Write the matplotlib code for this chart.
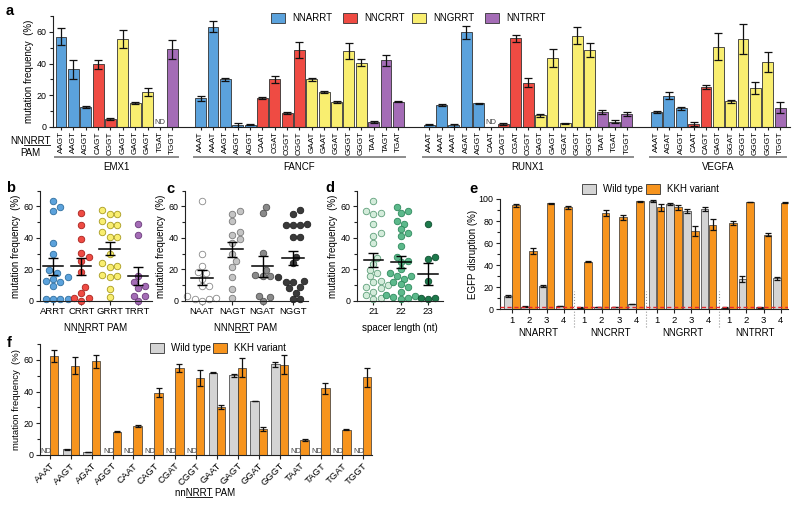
import numpy as np
import matplotlib.pyplot as plt
from matplotlib.lines import Line2D
from matplotlib.patches import Rectangle
import matplotlib.transforms as mtrans

plt.rcParams['font.family'] = ['Liberation Sans', 'DejaVu Sans']
plt.rcParams['font.size'] = 7

W, H = 800, 505

# ---------------- panel a: mutation frequency per site ----------------
genes = ['EMX1', 'FANCF', 'RUNX1', 'VEGFA']
nan = np.nan
emx1_pam = ['AAGT', 'AAGT', 'AGGT', 'CAGT', 'CGGT', 'GAGT', 'GAGT', 'GAGT', 'TGAT', 'TGGT']
emx1_val = [57, 36.5, 12.5, 39.5, 5.2, 55.5, 15, 21.8, nan, 49]
emx1_err = [5.2, 6, 0.5, 3, 0.6, 5.5, 0.6, 2.5, nan, 6]
fancf_pam = ['AAAT', 'AAAT', 'AAGT', 'AGGT', 'AGGT', 'CAAT', 'CGAT', 'CGGT', 'CGGT', 'GAAT',
             'GAAT', 'GGAT', 'GGGT', 'GGGT', 'TAAT', 'TAGT', 'TGAT']
fancf_val = [18, 63.2, 30, 1.5, 1.5, 18.2, 30.2, 8.8, 48.5, 30, 22, 16, 48, 40.5, 3.2, 42, 16]
fancf_err = [1.3, 3.5, 1.2, 1.3, 0.3, 0.8, 2.2, 0.7, 5, 1.2, 0.6, 0.6, 5, 2.3, 0.4, 3.3, 0.3]
runx1_pam = ['AAAT', 'AAAT', 'AAAT', 'AGAT', 'AGGT', 'CAAT', 'CAGT', 'CGAT', 'CGGT', 'GAGT',
             'GAGT', 'GGAT', 'GGGT', 'GGGT', 'TAAT', 'TGAT', 'TGGT']
runx1_val = [1.3, 14, 1, 59.8, 15, nan, 2, 56, 28, 7.4, 43.6, 2.3, 57.7, 48.4, 9.3, 3.4, 8.2]
runx1_err = [0.3, 0.5, 0.8, 4, 0.4, nan, 0.7, 2.3, 3, 1, 5.5, 0.4, 5.5, 4.5, 1.2, 0.7, 1]
vegfa_pam = ['AAAT', 'AGAT', 'AGGT', 'CAAT', 'CAGT', 'GAGT', 'GGAT', 'GGGT', 'GGGT', 'GGGT', 'TGGT']
vegfa_val = [9.5, 19.8, 11.8, 1.7, 25.2, 50.7, 16.2, 55.4, 24.4, 40.8, 12.2]
vegfa_err = [0.5, 2.3, 0.8, 1.2, 1, 8.5, 1, 9.5, 3.8, 6.3, 3.5]

pam_classes = ['NNARRT', 'NNCRRT', 'NNGRRT', 'NNTRRT']
b_groups = ['ARRT', 'CRRT', 'GRRT', 'TRRT']
c_groups = ['NAAT', 'NAGT', 'NGAT', 'NGGT']

# ---------------- panel d: spacer length ----------------
d_groups = ['21', '22', '23']
d_21 = [63.6, 57.2, 56, 55, 48.7, 43.4, 41.2, 36.5, 27.3, 23.5, 19.9, 17.7, 15.6, 12.4,
        9.2, 8.1, 6, 2.1, 1.5, 4, 10, 12]
d_22 = [59.8, 57, 56, 50.8, 49, 45.5, 43.4, 41.2, 34.8, 18, 28, 25.2, 24.5, 12, 20, 16,
        15.6, 14, 10.7, 9.2, 6, 3.2, 2.8, 1.7, 1.5, 4]
d_23 = [48.7, 28, 26.7, 12.8, 1.7, 1, 2]

# ---------------- panel e: EGFP disruption ----------------
e_groups = ['NNARRT', 'NNCRRT', 'NNGRRT', 'NNTRRT']
e_sites = ['1', '2', '3', '4']
e_wt = [12.1, 2.4, 21.2, 3, 1.5, 2, 2, 4.8, 98.2, 95.5, 89.4, 90.9, 1.5, 27.3, 1.8, 28.2]
e_wt_err = [0.6, 0.3, 1.2, 0.3, 0.3, 0.3, 0.3, 0.3, 0.5, 1.2, 1.8, 1.8, 0.3, 2.5, 0.3, 1.5]
e_kkh = [94.2, 53, 96, 92.4, 43.3, 87.3, 83.3, 97.9, 92.4, 92.4, 71.2, 76.7, 78.2, 97.3, 67.6, 96.7]
e_kkh_err = [1.5, 3, 0.6, 1.2, 0.3, 2.3, 2.5, 0.3, 3.5, 2, 4.5, 5, 1.5, 0.3, 1.2, 0.3]
e_threshold = 2.5

# ---------------- panel f: WT vs KKH per PAM ----------------
f_pam = ['AAAT', 'AAGT', 'AGAT', 'AGGT', 'CAAT', 'CAGT', 'CGAT', 'CGGT',
         'GAAT', 'GAGT', 'GGAT', 'GGGT', 'TAAT', 'TAGT', 'TGAT', 'TGGT']
f_wt = [nan, 3.5, 1.9, nan, nan, nan, nan, nan, 52, 50.2, 34, 57.1, nan, nan, nan, nan]
f_wt_err = [nan, 0.3, 0.2, nan, nan, nan, nan, nan, 0.4, 1, 0.2, 1.5, nan, nan, nan, nan]
f_kkh = [62.5, 56.3, 59, 14.8, 18.3, 39.4, 55, 48.3, 30.2, 55, 16.5, 56.9, 9.4, 42, 16, 49]
f_kkh_err = [4, 5.5, 4, 0.5, 0.8, 3, 2.5, 5, 1.2, 6, 1.2, 6, 0.8, 3.3, 0.3, 6]

# ---------------- styling ----------------
cls_col = {'A': '#5ba2dc', 'C': '#ef4b43', 'G': '#f9ee70', 'T': '#a46cb6'}
cls_edge = {'A': '#2f6f9f', 'C': '#a8231e', 'G': '#a89a20', 'T': '#6a3a7a'}
c_col = ['#ffffff', '#c4c4c4', '#8a8a8a', '#3a3a3a']
c_edge = ['#8a8a8a', '#7a7a7a', '#555555', '#222222']
d_col = ['#d4ecdb', '#5cb98b', '#1d7a4c']
d_edge = ['#5f9f7a', '#2f8a5d', '#0f4f30']
wt_col = '#d4d4d4'
kkh_col = '#f7941d'
edge = '#333333'
TL = 6.4

fig = plt.figure(figsize=(W / 100, H / 100), dpi=100)


def px_axes(l, t, r, b):
    return fig.add_axes([l / W, 1 - b / H, (r - l) / W, (b - t) / H])


def style(ax):
    for s in ['top', 'right']:
        ax.spines[s].set_visible(False)
    for s in ['left', 'bottom']:
        ax.spines[s].set_linewidth(0.8)
        ax.spines[s].set_color('#222222')
    ax.tick_params(which='both', width=0.8, length=3, labelsize=TL, pad=1.5, color='#222222')
    ax.tick_params(which='minor', length=2)


def ftext(x, y, s, **kw):
    return fig.text(x / W, 1 - y / H, s, **kw)


underlines = []


def utext(x, y, s, i0, i1, size=7):
    t = ftext(x, y, s, ha='center', va='center', fontsize=size)
    underlines.append((t, s, i0, i1, size))


def legend_item(x, y, col, label):
    fig.add_artist(Rectangle((x / W, 1 - (y + 5) / H), 14 / W, 10 / H, facecolor=col,
                             edgecolor=edge, linewidth=0.6, transform=fig.transFigure))
    ftext(x + 21, y, label, ha='left', va='center', fontsize=7)


def swarm(vals, xpx, ypx, d=6.6):
    vals = np.asarray(vals, float)
    offs = np.zeros(len(vals))
    placed = []
    for i in np.argsort(vals):
        y = vals[i] * ypx
        k = 0
        while True:
            found = None
            for c in ([0] if k == 0 else [k, -k]):
                x = c * d * 0.55
                if all((x - px) ** 2 + (y - py) ** 2 >= (0.95 * d) ** 2 for px, py in placed):
                    found = x
                    break
            if found is not None:
                break
            k += 1
        placed.append((found, y))
        offs[i] = found / xpx
    return offs


# ================= panel a =================
ax = px_axes(53, 16, 790, 127)
style(ax)
gene_pams = [emx1_pam, fancf_pam, runx1_pam, vegfa_pam]
gene_vals = [emx1_val, fancf_val, runx1_val, vegfa_val]
gene_errs = [emx1_err, fancf_err, runx1_err, vegfa_err]
starts = [0, 11.3, 29.8, 48.2]
all_x, all_lab = [], []
trans = mtrans.blended_transform_factory(ax.transData, ax.transAxes)
for g, s0, pams, vals, errs in zip(genes, starts, gene_pams, gene_vals, gene_errs):
    xs = s0 + np.arange(len(pams))
    for x, p, v, e in zip(xs, pams, vals, errs):
        if np.isnan(v):
            ax.text(x, 0.5, 'ND', ha='center', va='bottom', fontsize=5.5, color='#444444')
            continue
        ax.bar(x, v, width=0.88, color=cls_col[p[0]], edgecolor=edge, linewidth=0.6, zorder=2)
        ax.errorbar(x, v, yerr=e, fmt='none', ecolor='#111111', elinewidth=0.9,
                    capsize=2.8, capthick=0.9, zorder=3)
    all_x += list(xs)
    all_lab += pams
    ax.plot([s0 - 0.5, s0 + len(pams) - 0.5], [-0.27, -0.27], transform=trans,
            color='#8c8c8c', lw=1.4, clip_on=False)
    ax.text(s0 + (len(pams) - 1) / 2, -0.36, g, transform=trans, ha='center',
            va='center', fontsize=7)
ax.set_xticks(all_x)
ax.set_xticklabels(all_lab, rotation=90, fontsize=5.9)
ax.tick_params(axis='x', length=2, pad=1)
ax.set_xlim(-0.65, 59.0)
ax.set_ylim(0, 70)
ax.set_yticks([0, 20, 40, 60])
ax.set_yticks([10, 30, 50, 70], minor=True)
ax.set_ylabel('mutation frequency  (%)', fontsize=7, labelpad=2)
ftext(30, 141.5, 'NNNRRT', ha='center', va='center', fontsize=7)
underlines.append((fig.texts[-1], 'NNNRRT', 2, 6, 7))
ftext(30, 152.5, 'PAM', ha='center', va='center', fontsize=7)
for x, col, lab in zip([271, 343, 412, 485], ['A', 'C', 'G', 'T'], pam_classes):
    legend_item(x, 18, cls_col[col], lab)

# pooled data for b and c (ND -> 0)
pool_pam = sum(gene_pams, [])
pool_val = [0 if np.isnan(v) else v for v in sum(gene_vals, [])]


def scatter_panel(ax, groups, cols, edges, xpx, ypx):
    for i, (vals, c, ec) in enumerate(zip(groups, cols, edges)):
        vals = np.asarray(vals, float)
        offs = swarm(vals, xpx, ypx)
        ax.scatter(i + offs, vals, s=22, color=c, edgecolor=ec, linewidth=0.6, zorder=2,
                   clip_on=False)
        m = vals.mean()
        sem = vals.std(ddof=1) / np.sqrt(len(vals))
        ax.plot([i - 0.36, i + 0.36], [m, m], color='k', lw=1.1, zorder=4)
        ax.errorbar(i, m, yerr=sem, fmt='none', ecolor='k', elinewidth=1.0, capsize=3.5,
                    capthick=1.0, zorder=4)
    ax.set_ylim(0, 70)
    ax.set_yticks([0, 20, 40, 60])
    ax.set_yticks([10, 30, 50, 70], minor=True)
    ax.set_ylabel('mutation frequency  (%)', fontsize=7, labelpad=2)


# ================= panel b =================
ax = px_axes(40, 190.7, 152, 301)
style(ax)
b_vals = [[v for p, v in zip(pool_pam, pool_val) if p[0] == k[0]] for k in b_groups]
scatter_panel(ax, b_vals, [cls_col[k[0]] for k in b_groups], [cls_edge[k[0]] for k in b_groups],
              28.3, 1.56)
ax.set_xticks(range(4))
ax.set_xticklabels(b_groups, fontsize=6.8)
ax.set_xlim(-0.46, 3.5)
utext(96, 328, 'NNNRRT PAM', 2, 3)

# ================= panel c =================
ax = px_axes(185, 190.7, 308, 301)
style(ax)
c_vals = [[v for p, v in zip(pool_pam, pool_val) if p[1:] == k[1:]] for k in c_groups]
scatter_panel(ax, c_vals, c_col, c_edge, 30.3, 1.56)
ax.set_xticks(range(4))
ax.set_xticklabels(c_groups, fontsize=6.8)
ax.set_xlim(-0.56, 3.5)
utext(246, 328, 'NNNRRT PAM', 3, 5)

# ================= panel d =================
ax = px_axes(357, 190.7, 443, 301)
style(ax)
scatter_panel(ax, [d_21, d_22, d_23], d_col, d_edge, 27.5, 1.56)
ax.set_xticks(range(3))
ax.set_xticklabels(d_groups, fontsize=6.8)
ax.set_xlim(-0.6, 2.55)
ax.set_xlabel('spacer length (nt)', fontsize=7, labelpad=5)

# ================= panel e =================
ax = px_axes(500, 199, 788, 309.3)
style(ax)
gstep = 4.18
pos = np.array([g * gstep + j for g in range(4) for j in range(4)])
ax.bar(pos - 0.23, e_wt, width=0.44, color=wt_col, edgecolor=edge, linewidth=0.5, zorder=2)
ax.bar(pos + 0.23, e_kkh, width=0.44, color=kkh_col, edgecolor=edge, linewidth=0.5, zorder=2)
ax.errorbar(pos - 0.23, e_wt, yerr=e_wt_err, fmt='none', ecolor='#111111', elinewidth=0.9,
            capsize=2.2, capthick=0.9, zorder=3)
ax.errorbar(pos + 0.23, e_kkh, yerr=e_kkh_err, fmt='none', ecolor='#111111', elinewidth=0.9,
            capsize=2.2, capthick=0.9, zorder=3)
ax.axhline(e_threshold, color='#e8262b', lw=1.0, ls=(0, (3, 2)), zorder=4)
ax.set_xticks(pos)
ax.set_xticklabels(e_sites * 4, fontsize=6.8)
ax.set_xlim(-0.69, 15.95)
ax.set_ylim(0, 100)
ax.set_yticks(range(0, 101, 20))
ax.set_yticks(range(10, 100, 20), minor=True)
ax.set_ylabel('EGFP disruption (%)', fontsize=7, labelpad=0.5)
trans = mtrans.blended_transform_factory(ax.transData, ax.transAxes)
for g, lab in enumerate(e_groups):
    ax.text(g * gstep + 1.5, -0.215, lab, transform=trans, ha='center', va='center', fontsize=7)
    if g > 0:
        xs = g * gstep - (gstep - 3) / 2
        ax.plot([xs, xs], [-16, 17], color='#9a9a9a', lw=0.8, ls=':', clip_on=False, zorder=1)
legend_item(582, 189, wt_col, 'Wild type')
legend_item(646, 189, kkh_col, 'KKH variant')

# ================= panel f =================
ax = px_axes(40, 344, 372, 455)
style(ax)
fx = np.arange(len(f_pam))
for x, v, e in zip(fx, f_wt, f_wt_err):
    if np.isnan(v):
        ax.text(x - 0.2, 0.3, 'ND', ha='center', va='bottom', fontsize=5.5, color='#444444')
    else:
        ax.bar(x - 0.2, v, width=0.4, color=wt_col, edgecolor=edge, linewidth=0.5, zorder=2)
        ax.errorbar(x - 0.2, v, yerr=e, fmt='none', ecolor='#111111', elinewidth=0.9,
                    capsize=2.2, capthick=0.9, zorder=3)
ax.bar(fx + 0.2, f_kkh, width=0.4, color=kkh_col, edgecolor=edge, linewidth=0.5, zorder=2)
ax.errorbar(fx + 0.2, f_kkh, yerr=f_kkh_err, fmt='none', ecolor='#111111', elinewidth=0.9,
            capsize=2.2, capthick=0.9, zorder=3)
ax.set_xticks(fx)
ax.set_xticklabels(f_pam, rotation=45, ha='right', rotation_mode='anchor', fontsize=6.8)
ax.set_xlim(-0.48, 15.43)
ax.set_ylim(0, 70)
ax.set_yticks([0, 20, 40, 60])
ax.set_yticks([10, 30, 50, 70], minor=True)
ax.set_ylabel('mutation frequency  (%)', fontsize=6.8, labelpad=2)
utext(205, 493, 'nnNRRT PAM', 2, 6)
legend_item(150, 348, wt_col, 'Wild type')
legend_item(213, 348, kkh_col, 'KKH variant')

# panel letters
for lab, x, y in [('a', 10, 11), ('b', 11, 188), ('c', 170, 189), ('d', 330, 188),
                  ('e', 473, 189), ('f', 9, 343)]:
    ftext(x, y, lab, ha='center', va='center', fontsize=10.5, fontweight='bold')

# underlines under parts of the PAM labels
fig.canvas.draw()
r = fig.canvas.get_renderer()
for t, s, i0, i1, size in underlines:
    bb = t.get_window_extent(r)
    tmp = fig.text(0, 0, s[:i0] if i0 else ' ', fontsize=size)
    w0 = tmp.get_window_extent(r).width if i0 else 0
    tmp.set_text(s[:i1])
    w1 = tmp.get_window_extent(r).width
    tmp.remove()
    y = bb.y0 + 1.5
    p0 = fig.transFigure.inverted().transform((bb.x0 + w0, y))
    p1 = fig.transFigure.inverted().transform((bb.x0 + w1, y))
    fig.add_artist(Line2D([p0[0], p1[0]], [p0[1], p1[1]], color='#222222', lw=0.7,
                          transform=fig.transFigure))

fig.savefig('out.png', dpi=100)
